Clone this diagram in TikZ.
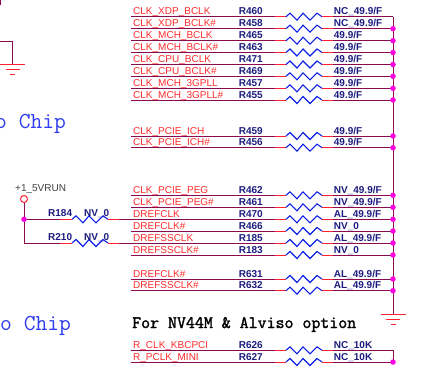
\documentclass[tikz,border=0pt]{standalone}
\usepackage{fontspec}
\setmainfont{Liberation Sans}
\newfontfamily\optionfont[FakeBold=1.6]{Latin Modern Mono}
\usetikzlibrary{calc}
\definecolor{wirecol}{HTML}{8A0A50}
\definecolor{stubcol}{HTML}{FF2030}
\definecolor{netcol}{HTML}{FF2B2B}
\definecolor{refcol}{HTML}{1C1C80}
\definecolor{rescol}{HTML}{0A1EE6}
\definecolor{dotcol}{HTML}{FF00E0}
\definecolor{chipcol}{HTML}{2F3CF0}

\begin{document}
\begin{tikzpicture}[
  x=1pt, y=-1pt,
  wire/.style={wirecol, line width=1pt},
  stub/.style={stubcol, line width=1pt},
  res/.style={rescol, line width=1.1pt},
  net/.style={anchor=base west, inner sep=0pt, netcol, font=\fontsize{10}{10}\selectfont},
  ref/.style={anchor=base west, inner sep=0pt, refcol, font=\bfseries\fontsize{10}{10}\selectfont},
  junction/.style={circle, fill=dotcol, inner sep=0pt, minimum size=5.5pt},
  power/.style={circle, draw=stubcol, line width=1pt, inner sep=0pt, minimum size=7pt},
  chiptext/.style={anchor=base west, inner sep=0pt, chipcol, font=\ttfamily\fontsize{22.9}{22.9}\selectfont},
  optiontext/.style={anchor=base west, inner sep=0pt, black, font=\optionfont\fontsize{17.4}{17.4}\selectfont},
  gnd/.pic={
    \draw[stub] (-12.5,0) -- (12.5,0);
    \draw[stub] (-7,5.5) -- (7,5.5);
    \draw[stub] (-2.5,10.5) -- (2.5,10.5);
  }
]
\useasboundingbox (0,0) rectangle (426,375);
\clip (0,0) rectangle (426,375);

\foreach \r/\y/\net/\val in {
  R460/16.7/CLK\_XDP\_BCLK/{NC\_49.9/F},
  R458/28.7/CLK\_XDP\_BCLK\#/{NC\_49.9/F},
  R465/40.7/CLK\_MCH\_BCLK/{49.9/F},
  R463/52.5/CLK\_MCH\_BCLK\#/{49.9/F},
  R471/64.5/CLK\_CPU\_BCLK/{49.9/F},
  R469/76.3/CLK\_CPU\_BCLK\#/{49.9/F},
  R457/88.3/CLK\_MCH\_3GPLL/{49.9/F},
  R455/100/CLK\_MCH\_3GPLL\#/{49.9/F},
  R459/136/CLK\_PCIE\_ICH/{49.9/F},
  R456/147.7/CLK\_PCIE\_ICH\#/{49.9/F},
  R462/195.3/CLK\_PCIE\_PEG/{NV\_49.9/F},
  R461/207.3/CLK\_PCIE\_PEG\#/{NV\_49.9/F},
  R470/219.3/DREFCLK/{AL\_49.9/F},
  R466/231/DREFCLK\#/{NV\_0},
  R185/243/DREFSSCLK/{AL\_49.9/F},
  R183/255/DREFSSCLK\#/{NV\_0},
  R631/279/DREFCLK\#/{AL\_49.9/F},
  R632/290.7/DREFSSCLK\#/{AL\_49.9/F},
  R626/350.3/R\_CLK\_KBCPCI/{NC\_10K},
  R627/362/R\_PCLK\_MINI/{NC\_10K}%
} {
  \coordinate (L\r) at (131,\y);
  \coordinate (A\r) at (286,\y);
  \coordinate (B\r) at (322,\y);
  \coordinate (J\r) at (393,\y);
  \draw[wire] (L\r) -- ($(A\r)+(-11,0)$);
  \draw[stub] ($(A\r)+(-11,0)$) -- (A\r);
  \draw[res] (A\r) -- ++(4,-3.5) -- ++(7,7) -- ++(6,-7) -- ++(7,7) -- ++(7,-7) -- (B\r);
  \draw[stub] (B\r) -- ++(11,0);
  \draw[wire] ($(B\r)+(11,0)$) -- (J\r);
  \node[net] (net\r) at (133,\y-2) {\net};
  \node[ref] (ref\r) at (238.7,\y-2) {\r};
  \node[ref] (val\r) at (333.7,\y-2) {\val};
}

\coordinate (gndR) at (393,314.3);
\draw[wire] (JR460) -- (gndR);
\draw[wire] (JR626) -- (JR627);
\path (gndR) pic {gnd};
\foreach \r in {R458, R465, R463, R471, R469, R457, R455, R459, R456, R462, R461,
                R470, R466, R185, R183, R631, R632, R627} {
  \node[junction] (dot\r) at (J\r) {};
}

\node[power] (vrun) at (24,199) {};
\node[net, black!75] (vrunlabel) at (15,191) {+1\_5VRUN};
\coordinate (tapA) at (24,219.3);
\coordinate (tapB) at (24,243);
\draw[wire] (vrun) -- (tapB);
\foreach \t/\r/\y/\n in {tapA/R184/219.3/LR470, tapB/R210/243/LR185} {
  \coordinate (A\r) at (72,\y);
  \coordinate (B\r) at (108,\y);
  \draw[wire] (\t) -- ($(A\r)+(-12,0)$);
  \draw[stub] ($(A\r)+(-12,0)$) -- (A\r);
  \draw[res] (A\r) -- ++(4,-3.5) -- ++(7,7) -- ++(6,-7) -- ++(7,7) -- ++(7,-7) -- (B\r);
  \draw[stub] (B\r) -- ++(11,0);
  \draw[wire] ($(B\r)+(11,0)$) -- (\n);
  \node[ref] (ref\r) at (48,\y-2.5) {\r};
  \node[ref] (val\r) at (84,\y-2.5) {NV\_0};
}
\node[junction] (dotA) at (tapA) {};

\coordinate (gndIn) at (0,41);
\coordinate (gndL) at (12.5,64.3);
\draw[wire] (gndIn) -| (gndL);
\path (gndL) pic {gnd};
\draw[wire, line width=1.5pt] (0,0) -- (0,5);

\node[chiptext] (chipA) at (-5,128) {o Chip};
\node[chiptext] (chipB) at (0,330) {o Chip};
\node[optiontext] (option) at (132,328) {For NV44M \& Alviso option};
\end{tikzpicture}
\end{document}
